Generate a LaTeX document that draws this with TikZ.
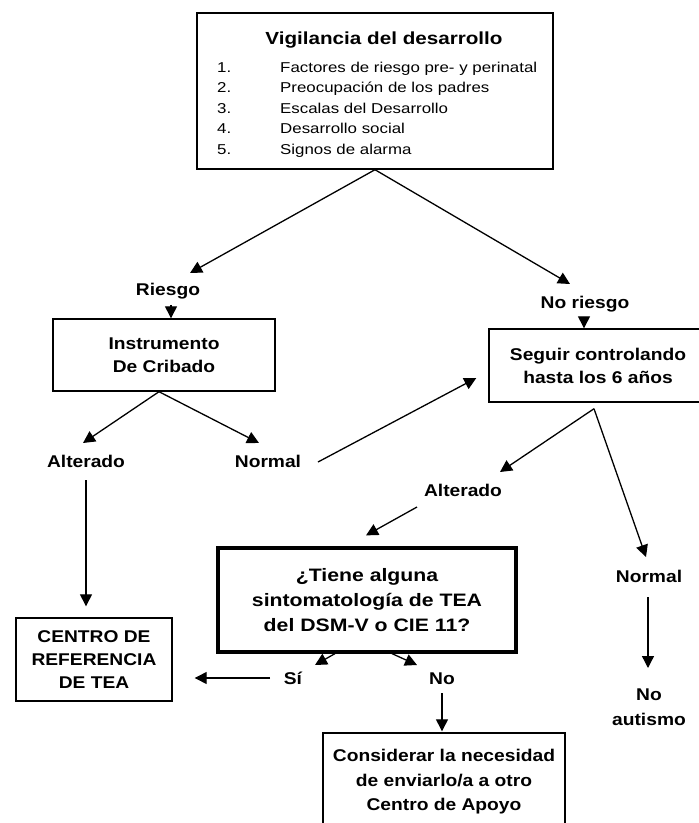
\documentclass[tikz,border=0pt]{standalone}
\usepackage{fontspec}
\setmainfont{Liberation Sans}[FakeStretch=1.18]
\newfontfamily\lblfam{Liberation Sans}[FakeStretch=1.13]
\usetikzlibrary{arrows.meta}
\newcommand\lblfont{\lblfam\fontsize{17}{23}\selectfont\bfseries}
\newcommand\itemfont{\fontsize{14.3}{17}\selectfont}

\begin{document}
\begin{tikzpicture}[x=1pt,y=-1pt,
  lbl/.style={inner sep=0pt,anchor=base,font=\lblfont},
  frame/.style={draw,line width=1.4pt,inner sep=0pt,align=center,font=\lblfont},
  arr/.style={line width=1.3pt,-{Triangle[length=12pt,width=12pt]}}]

\useasboundingbox[fill=white] (0,0) rectangle (699,823);

% boxes
\node[frame,minimum width=356pt,minimum height=156pt] (vig) at (375,91) {};
\node[inner sep=0pt,anchor=base,font=\fontsize{17.5}{20}\selectfont\bfseries] (vigtitle) at (384,44) {Vigilancia del desarrollo};
\foreach \n/\txt [count=\i from 0] in {1./Factores de riesgo pre- y perinatal,
    2./Preocupación de los padres,3./Escalas del Desarrollo,
    4./Desarrollo social,5./Signos de alarma}
{
  \node[inner sep=0pt,anchor=base west,font=\itemfont] (num\i) at (217,72+20.5*\i) {\n};
  \node[inner sep=0pt,anchor=base west,font=\itemfont] (item\i) at (280,72+20.5*\i) {\txt};
}
\node[frame,minimum width=222pt,minimum height=72pt] (instr) at (164,355) {Instrumento\\De Cribado};
\node[frame,minimum width=218pt,minimum height=73pt] (seguir) at (598,365.5) {Seguir controlando\\hasta los 6 años};
\node[frame,minimum width=156pt,minimum height=83pt] (centro) at (94,659.5) {CENTRO DE\\REFERENCIA\\DE TEA};
\node[frame,line width=3.2pt,minimum width=298pt,minimum height=104pt,
  font=\fontsize{18}{25}\selectfont\bfseries] (quest) at (367,600) {¿Tiene alguna\\sintomatología de TEA\\del DSM-V o CIE 11?};
\node[frame,minimum width=242pt,minimum height=98pt,
  font=\lblfam\fontsize{17}{24.5}\selectfont\bfseries] (consid) at (444,782) {Considerar la necesidad\\de enviarlo/a a otro\\Centro de Apoyo};

% labels
\node[lbl] (riesgo) at (168,295) {Riesgo};
\node[lbl] (noriesgo) at (585,308) {No riesgo};
\node[lbl] (altL) at (86,467) {Alterado};
\node[lbl] (normL) at (268,467) {Normal};
\node[lbl] (altR) at (463,496) {Alterado};
\node[lbl] (normR) at (649,582) {Normal};
\node[lbl] (si) at (293,684) {Sí};
\node[lbl] (no) at (442,684) {No};
\node[lbl,anchor=north,align=center,font=\lblfam\fontsize{17}{25}\selectfont\bfseries] (noaut) at (649,689) {No\\autismo};

% connectors
\draw[arr] (vig.south) -- ([xshift=22pt,yshift=22pt]riesgo.base);
\draw[arr] (vig.south) -- ([xshift=-15pt,yshift=24pt]noriesgo.base);
\draw[arr,shorten <=6pt] ([xshift=3pt]riesgo.south) -- ([xshift=7pt]instr.north);
\draw[arr,shorten <=5pt] ([xshift=-1pt]noriesgo.south) -- ([xshift=-14pt]seguir.north);
\draw[arr] ([xshift=-5pt]instr.south) -- ([xshift=-3pt,yshift=24pt]altL.base);
\draw[arr] ([xshift=-5pt]instr.south) -- ([xshift=-9pt,yshift=24pt]normL.base);
\draw[arr] ([yshift=-13pt]altL.base) -- ([xshift=-8pt,yshift=11pt]centro.north);
\draw[arr] ([xshift=50pt,yshift=5pt]normL.base) -- ([xshift=-12pt,yshift=-12.5pt]seguir.west);
\draw[arr] ([xshift=-4pt,yshift=-6pt]seguir.south) -- ([xshift=37pt,yshift=24pt]altR.base);
\draw[arr] ([xshift=-4pt,yshift=-6pt]seguir.south) -- ([xshift=-3pt,yshift=25pt]normR.base);
\draw[arr] ([xshift=-46pt,yshift=-11pt]altR.base) -- ([xshift=-1pt,yshift=11pt]quest.north);
\draw[arr] ([xshift=-1pt,yshift=-15pt]normR.base) -- ([xshift=-1pt,yshift=21pt]noaut.north);
\draw[arr] ([xshift=-32pt]quest.south) -- ([xshift=22pt,yshift=19pt]si.base);
\draw[arr] ([xshift=25pt]quest.south) -- ([xshift=-25pt,yshift=19pt]no.base);
\draw[arr] ([xshift=-23pt,yshift=6pt]si.base) -- ([xshift=22pt,yshift=-18.5pt]centro.east);
\draw[arr] ([yshift=-9pt]no.base) -- ([xshift=-2pt,yshift=1pt]consid.north);

\end{tikzpicture}
\end{document}
